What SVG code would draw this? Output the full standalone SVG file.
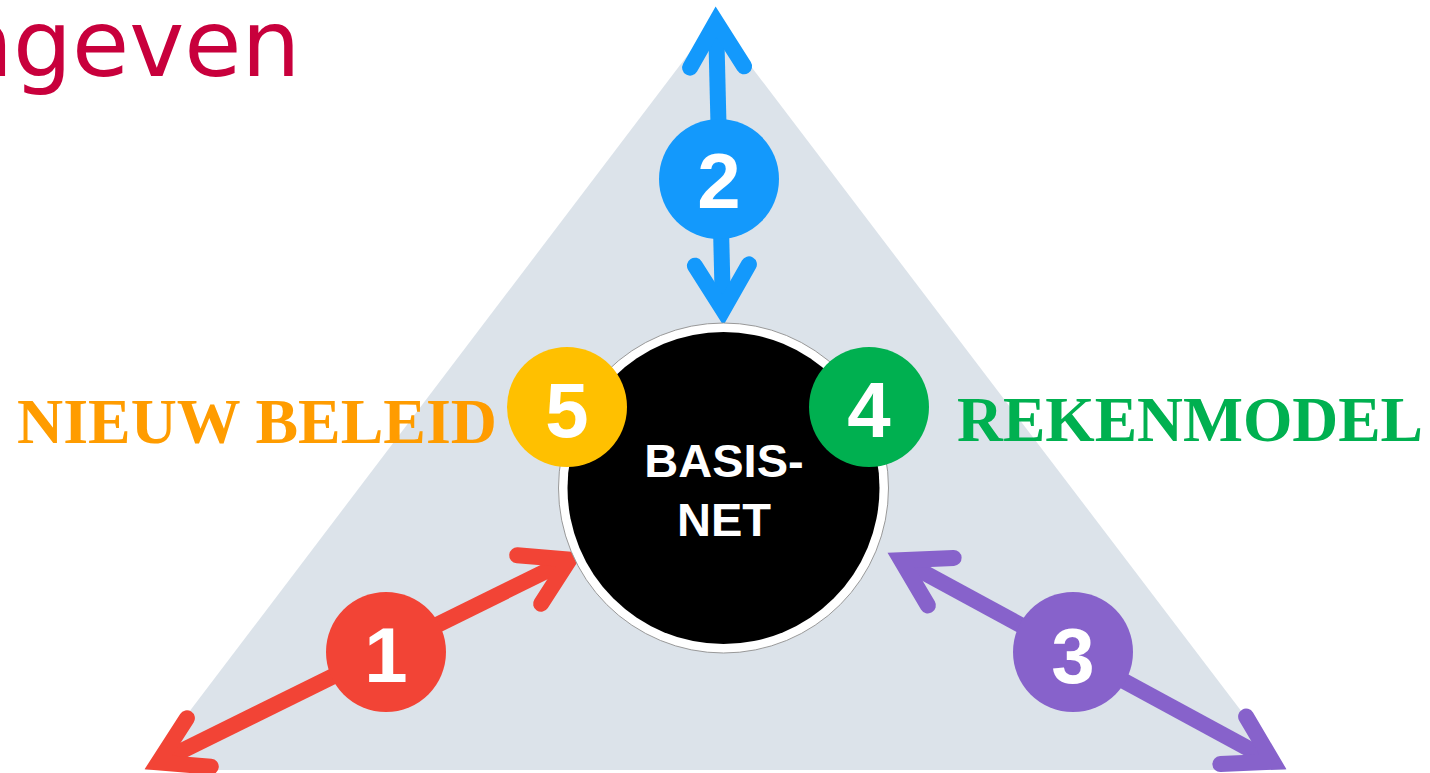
<svg xmlns="http://www.w3.org/2000/svg" width="1430" height="773" viewBox="0 0 1430 773">
<style>
.num{font-family:"Liberation Sans",Arial,sans-serif;font-weight:bold;font-size:78px;fill:#fff;text-anchor:middle}
.lbl{font-family:"Liberation Serif","Times New Roman",serif;font-weight:bold;font-size:64px}
.conn{fill:none;stroke-width:16;stroke-linecap:butt}
</style>
<defs>
<marker id="mRed" markerUnits="userSpaceOnUse" orient="auto-start-reverse" refX="0" refY="0" markerWidth="10" markerHeight="10" overflow="visible"><path d="M-45,-27 L0,0 L-45,27" fill="none" stroke="#F24436" stroke-width="16" stroke-linecap="round" stroke-linejoin="miter" stroke-miterlimit="10"/></marker>
<marker id="mBlue" markerUnits="userSpaceOnUse" orient="auto-start-reverse" refX="0" refY="0" markerWidth="10" markerHeight="10" overflow="visible"><path d="M-45,-27 L0,0 L-45,27" fill="none" stroke="#1399FC" stroke-width="16" stroke-linecap="round" stroke-linejoin="miter" stroke-miterlimit="10"/></marker>
<marker id="mPurple" markerUnits="userSpaceOnUse" orient="auto-start-reverse" refX="0" refY="0" markerWidth="10" markerHeight="10" overflow="visible"><path d="M-45,-27 L0,0 L-45,27" fill="none" stroke="#8762CB" stroke-width="16" stroke-linecap="round" stroke-linejoin="miter" stroke-miterlimit="10"/></marker>
</defs>
<rect width="1430" height="773" fill="#fff"/>
<text x="-46" y="76" font-family="'DejaVu Sans',Verdana,sans-serif" font-size="93" fill="#C8003C">ngeven</text>
<polygon id="triangle" points="715,19 145,770 1286,770" fill="#DCE3EA"/>
<g id="connectors">
<line class="conn" x1="716" y1="22" x2="723" y2="310" stroke="#1399FC" marker-start="url(#mBlue)" marker-end="url(#mBlue)"/>
<line class="conn" x1="158.5" y1="762.4" x2="569.5" y2="559.6" stroke="#F24436" marker-start="url(#mRed)" marker-end="url(#mRed)"/>
<line class="conn" x1="901.2" y1="560.2" x2="1272.8" y2="761.8" stroke="#8762CB" marker-start="url(#mPurple)" marker-end="url(#mPurple)"/>
</g>
<g id="basisnet">
<circle cx="723.5" cy="488" r="165" fill="#fff" stroke="#999" stroke-width="1"/>
<circle cx="723.5" cy="488" r="156" fill="#000"/>
<text x="724" y="477" font-family="'Liberation Sans',Arial,sans-serif" font-weight="bold" font-size="47" fill="#fff" text-anchor="middle">BASIS-</text>
<text x="724" y="536" font-family="'Liberation Sans',Arial,sans-serif" font-weight="bold" font-size="47" fill="#fff" text-anchor="middle">NET</text>
</g>
<g id="node1"><circle cx="386" cy="652" r="60" fill="#F24436"/><text class="num" x="386" y="682">1</text></g>
<g id="node2"><circle cx="719" cy="179" r="60" fill="#1399FC"/><text class="num" x="719" y="208">2</text></g>
<g id="node3"><circle cx="1073" cy="652" r="60" fill="#8762CB"/><text class="num" x="1073" y="683">3</text></g>
<g id="node4"><circle cx="869" cy="407" r="60" fill="#00B050"/><text class="num" x="869" y="437">4</text></g>
<g id="node5"><circle cx="567" cy="407" r="60" fill="#FFC000"/><text class="num" x="567" y="437">5</text></g>
<g id="label-nieuw-beleid"><text class="lbl" x="17" y="443" fill="#FF9C00" textLength="480" lengthAdjust="spacingAndGlyphs">NIEUW BELEID</text></g>
<g id="label-rekenmodel"><text class="lbl" x="957" y="441" fill="#00B050" textLength="466" lengthAdjust="spacingAndGlyphs">REKENMODEL</text></g>
</svg>
